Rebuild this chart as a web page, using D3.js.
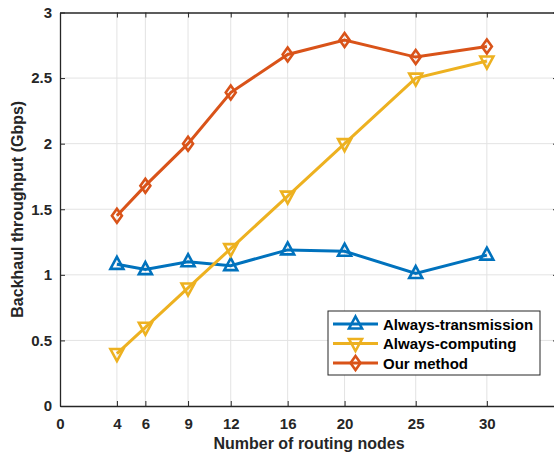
<!DOCTYPE html>
<html>
<head>
<meta charset="utf-8">
<script src="https://cdn.jsdelivr.net/npm/d3@7"></script>
<style>
  body { margin: 0; background: #fff; }
  svg { display: block; font-family: "Liberation Sans", Arial, sans-serif; }
</style>
</head>
<body>
<div id="chart"></div>
<script>
// data
const nodes = [4, 6, 9, 12, 16, 20, 25, 30];
const alwaysTransmission = [1.08, 1.04, 1.10, 1.07, 1.19, 1.18, 1.01, 1.15];
const alwaysComputing = [0.40, 0.60, 0.90, 1.20, 1.60, 2.00, 2.50, 2.63];
const ourMethod = [1.45, 1.68, 2.00, 2.39, 2.68, 2.79, 2.66, 2.74];
const xTicks = [0, 4, 6, 9, 12, 16, 20, 25, 30];
const yTicks = [0, 0.5, 1, 1.5, 2, 2.5, 3];

const series = [
    { name: 'Always-transmission', values: alwaysTransmission, color: '#0072BD', marker: 'up' },
    { name: 'Always-computing', values: alwaysComputing, color: '#EDB120', marker: 'down' },
    { name: 'Our method', values: ourMethod, color: '#D95319', marker: 'diamond' }
];

const W = 554, H = 453;
const margin = { top: 12.5, right: -4, bottom: 47, left: 60 };
const width = W - margin.left - margin.right,
    height = H - margin.top - margin.bottom;

const svg = d3.select('#chart').append('svg')
    .attr('width', W).attr('height', H);

const g = svg.append('g')
    .attr('transform', `translate(${margin.left},${margin.top})`);

const x = d3.scaleLinear().domain([0, 35]).range([0, width]);
const y = d3.scaleLinear().domain([0, 3]).range([height, 0]);

// grid
g.append('g').selectAll('line').data(xTicks.filter(d => d > 0))
    .enter().append('line')
    .attr('x1', d => x(d)).attr('x2', d => x(d))
    .attr('y1', 0).attr('y2', height)
    .attr('stroke', '#e3e3e3').attr('stroke-width', 1);
g.append('g').selectAll('line').data(yTicks.filter(d => d > 0 && d < 3))
    .enter().append('line')
    .attr('x1', 0).attr('x2', width)
    .attr('y1', d => y(d)).attr('y2', d => y(d))
    .attr('stroke', '#e3e3e3').attr('stroke-width', 1);

// axes (inward ticks, matlab style)
g.append('g')
    .attr('transform', `translate(0,${height})`)
    .call(d3.axisBottom(x).tickValues(xTicks).tickSizeInner(-5).tickSizeOuter(0).tickPadding(12));
g.append('g')
    .call(d3.axisLeft(y).tickValues(yTicks).tickSizeInner(-5).tickSizeOuter(0).tickPadding(8)
        .tickFormat(d => d));
g.append('g')
    .call(d3.axisTop(x).tickValues(xTicks).tickSizeInner(-5).tickSizeOuter(0).tickFormat(''));
g.append('g')
    .attr('transform', `translate(${width},0)`)
    .call(d3.axisRight(y).tickValues(yTicks).tickSizeInner(-5).tickSizeOuter(0).tickFormat(''));

g.selectAll('.domain').attr('stroke', '#262626').attr('stroke-width', 1.3);
g.selectAll('.tick line').attr('stroke', '#262626').attr('stroke-width', 1);
g.selectAll('.tick text')
    .attr('fill', '#262626')
    .style('font-size', '15px')
    .style('font-weight', 'bold');

// lines and markers
const line = d3.line()
    .x((d, i) => x(nodes[i]))
    .y(d => y(d));

function markerPath(type) {
    if (type === 'up') return 'M0,-7.5L6.5,4.5L-6.5,4.5Z';
    if (type === 'down') return 'M0,7.5L6.5,-4.5L-6.5,-4.5Z';
    return 'M0,-7L5,0L0,7L-5,0Z';
}

series.forEach(s => {
    g.append('path')
        .datum(s.values)
        .attr('fill', 'none')
        .attr('stroke', s.color)
        .attr('stroke-width', 3)
        .attr('d', line);

    g.selectAll(null)
        .data(s.values)
        .enter().append('path')
        .attr('transform', (d, i) => `translate(${x(nodes[i])},${y(d)})`)
        .attr('d', markerPath(s.marker))
        .attr('fill', 'none')
        .attr('stroke', s.color)
        .attr('stroke-width', 2.6);
});

// axis labels
svg.append('text')
    .attr('x', margin.left + x(17.5))
    .attr('y', 449)
    .attr('text-anchor', 'middle')
    .attr('fill', '#262626')
    .style('font-size', '16px')
    .style('font-weight', 'bold')
    .text('Number of routing nodes');

svg.append('text')
    .attr('transform', `translate(23,${margin.top + height / 2}) rotate(-90)`)
    .attr('text-anchor', 'middle')
    .attr('fill', '#262626')
    .style('font-size', '16px')
    .style('font-weight', 'bold')
    .text('Backhaul throughput (Gbps)');

// legend
const legend = svg.append('g').attr('transform', 'translate(328,311)');
legend.append('rect')
    .attr('width', 212).attr('height', 64)
    .attr('fill', '#fff')
    .attr('stroke', '#262626').attr('stroke-width', 1);

series.forEach((s, i) => {
    const row = legend.append('g').attr('transform', `translate(0,${13 + i * 19.5})`);
    row.append('line')
        .attr('x1', 5).attr('x2', 50)
        .attr('stroke', s.color).attr('stroke-width', 3);
    row.append('path')
        .attr('transform', 'translate(27.5,0)')
        .attr('d', markerPath(s.marker))
        .attr('fill', 'none')
        .attr('stroke', s.color)
        .attr('stroke-width', 2.6);
    row.append('text')
        .attr('x', 55).attr('y', 5.5)
        .attr('fill', '#000')
        .style('font-size', '15px')
        .style('font-weight', 'bold')
        .text(s.name);
});
</script>
</body>
</html>
